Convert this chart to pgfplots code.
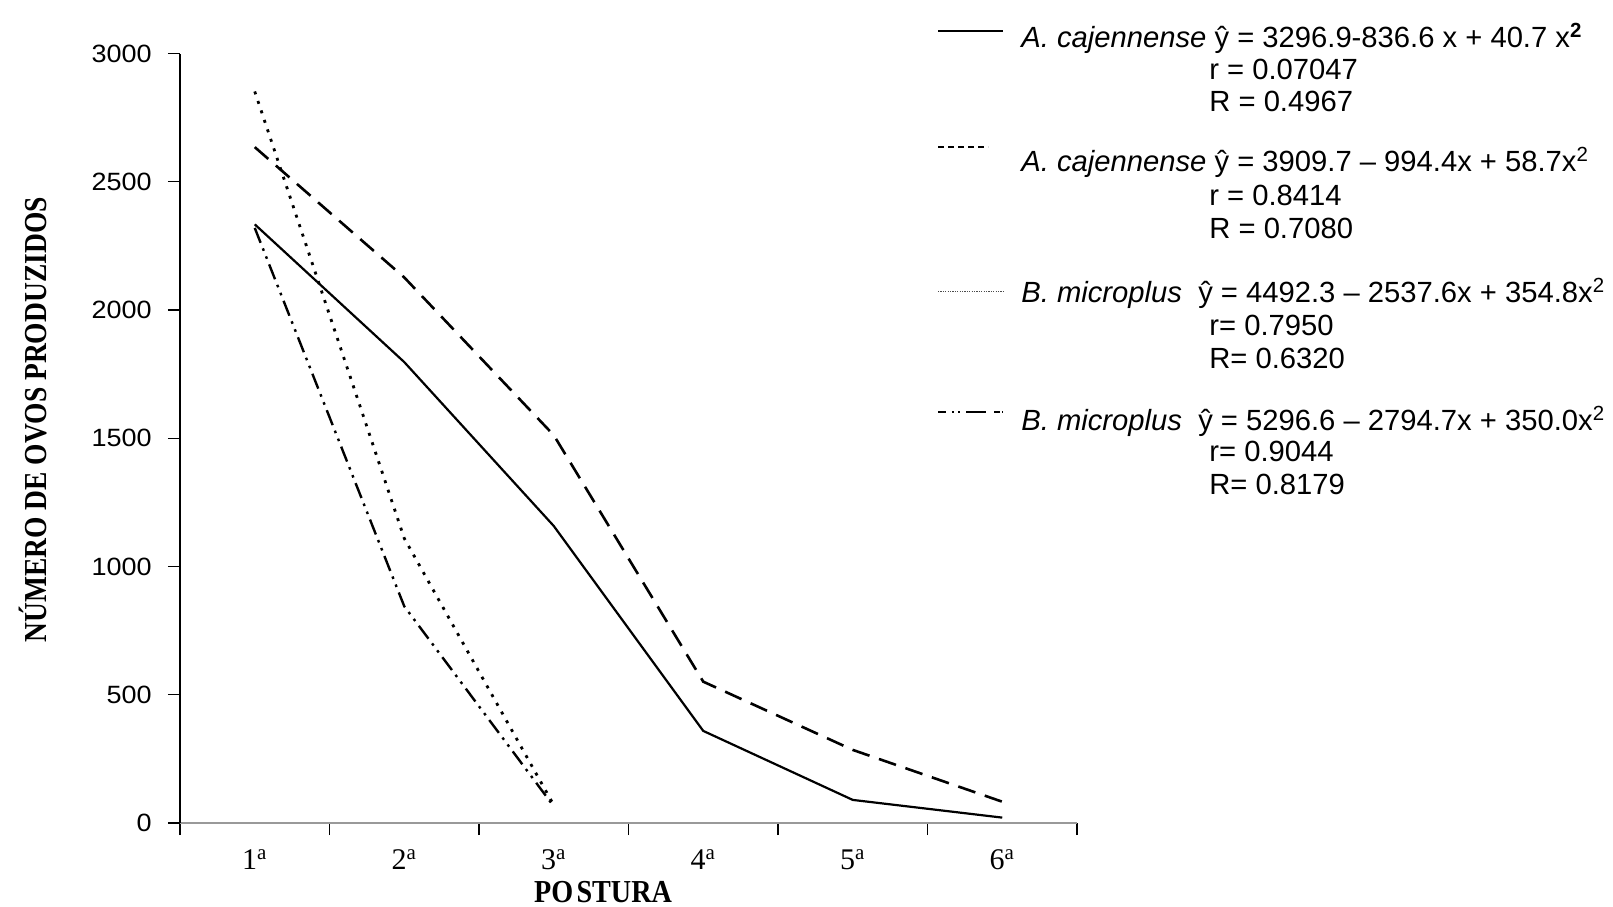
\documentclass[border=0pt]{standalone}
\usepackage{fontspec}
\setmainfont{Liberation Serif}
\newfontfamily\arial{Liberation Sans}
\usepackage{graphicx}
\usepackage{pgfplots}
\pgfplotsset{compat=1.18}

\begin{document}
\begin{tikzpicture}
\begin{axis}[
  scale only axis,
  width=448.5pt, height=384.75pt,
  xmin=0.5, xmax=6.5, ymin=0, ymax=3000,
  axis x line*=bottom, axis y line*=left,
  x axis line style={draw=gray!80, line width=0.8pt},
  y axis line style={draw=black, line width=0.8pt},
  xtick={0.5,1.5,2.5,3.5,4.5,5.5,6.5},
  x tick label as interval,
  xticklabels={1\textsuperscript{a},2\textsuperscript{a},3\textsuperscript{a},4\textsuperscript{a},5\textsuperscript{a},6\textsuperscript{a}},
  ytick={0,500,1000,1500,2000,2500,3000},
  tick align=outside,
  major tick length=6pt,
  tick style={black, line width=0.6pt},
  /pgf/number format/assume math mode=true,
  /pgf/number format/1000 sep={},
  yticklabel={\scalebox{1.08}[1]{\pgfmathprintnumber{\tick}}},
  yticklabel style={font=\arial\fontsize{12.5}{12.5}\selectfont, anchor=east, inner sep=0pt, xshift=-8pt},
  xticklabel style={font=\fontsize{15}{15}\selectfont, anchor=north, inner sep=0pt, yshift=-7pt},
  ylabel={\scalebox{0.86}[1]{\fontsize{16}{16}\selectfont\bfseries NÚMERO DE OVOS PRODUZIDOS}},
  ylabel style={at={(axis description cs:-0.164,0.524)}, anchor=center},
  xlabel={\scalebox{0.88}[1]{\fontsize{16}{16}\selectfont\bfseries PO\hspace{0.12em}STURA}},
  xlabel style={at={(axis description cs:0.4716,-0.0895)}, anchor=center, inner sep=0pt},
  clip=false,
]
\addplot[black, line width=1.1pt] coordinates {(1,2334)(2,1797)(3,1158)(4,359)(5,90)(6,21)};
\addplot[black, line width=1.3pt, dash pattern=on 9pt off 5pt] coordinates {(1,2635)(2,2127)(3,1512)(4,551)(5,285)(6,83)};
\addplot[black, line width=1.4pt, dash pattern=on 1.5pt off 3.5pt] coordinates {(1,2852)(2,1110)(3,70)};
\addplot[black, line width=1.2pt, dash pattern=on 8pt off 3pt on 1.3pt off 3pt on 1.3pt off 3pt] coordinates {(1,2320)(2,845)(3,65)};
\end{axis}
\begin{scope}[x=0.5pt,y=-0.5pt,shift={(-180,-823)}]
  \draw[black, line width=1pt] (938,31) -- (1003,31);
  \draw[black, line width=0.6pt, dash pattern=on 3pt off 2pt] (938,147) -- (988,147);
  \draw[black!70, line width=0.5pt, dash pattern=on 0.6pt off 0.6pt] (938,292) -- (1003,292);
  \draw[black, line width=1.3pt, dash pattern=on 4pt off 3pt on 1pt off 2pt on 1pt off 3pt on 10pt] (938,412) -- (1003,412);
  \begin{scope}[every node/.style={anchor=base west, inner sep=0pt, font=\arial\fontsize{14.6}{14.6}\selectfont}]
    \node at (1021,47.5) {\textit{A. cajennense} ŷ = 3296.9-836.6 x + 40.7 x\textsuperscript{\textbf{2}}};
    \node at (1209,79.5) {r = 0.07047};
    \node at (1209,111.5) {R = 0.4967};
    \node at (1021,172) {\textit{A. cajennense} ŷ = 3909.7 – 994.4x + 58.7x\textsuperscript{2}};
    \node at (1209,206) {r = 0.8414};
    \node at (1209,238.5) {R = 0.7080};
    \node at (1021,302.5) {\textit{B. microplus}\ \ ŷ = 4492.3 – 2537.6x + 354.8x\textsuperscript{2}};
    \node at (1209,335.5) {r= 0.7950};
    \node at (1209,368.5) {R= 0.6320};
    \node at (1021,430.5) {\textit{B. microplus}\ \ ŷ = 5296.6 – 2794.7x + 350.0x\textsuperscript{2}};
    \node at (1209,462) {r= 0.9044};
    \node at (1209,495) {R= 0.8179};
  \end{scope}
\end{scope}
\pgfresetboundingbox
\useasboundingbox (-90pt,411.5pt) rectangle (716.5pt,-41.5pt);
\end{tikzpicture}
\end{document}
